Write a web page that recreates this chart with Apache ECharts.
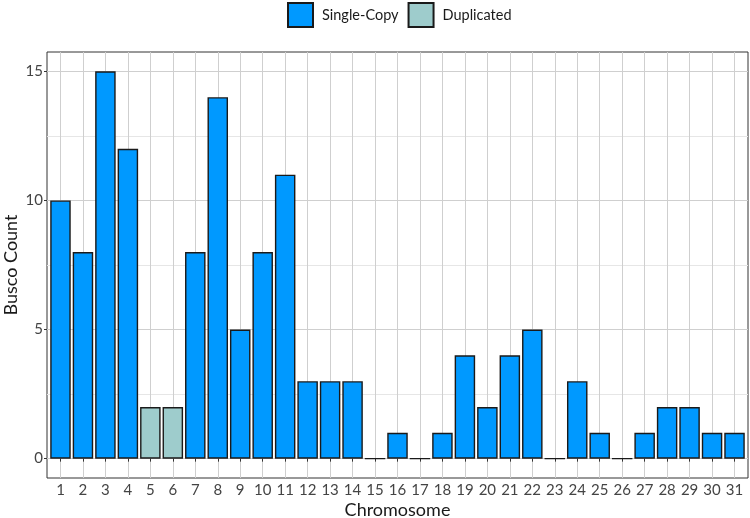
<!DOCTYPE html>
<html><head><meta charset="utf-8">
<script src="https://cdn.jsdelivr.net/npm/echarts@6/dist/echarts.min.js"></script>
<style>html,body{margin:0;padding:0;background:#fff}#c{width:750px;height:518px}</style>
</head><body><div id="c"></div>
<script>
const chromosomes = [1,2,3,4,5,6,7,8,9,10,11,12,13,14,15,16,17,18,19,20,21,22,23,24,25,26,27,28,29,30,31];
const singleCopy = [10,8,15,12,null,null,8,14,5,8,11,3,3,3,0,1,0,1,4,2,4,5,0,3,1,0,1,2,2,1,1];
const duplicated = [null,null,null,null,2,2,null,null,null,null,null,null,null,null,null,null,null,null,null,null,null,null,null,null,null,null,null,null,null,null,null];
const yTicks = [0,5,10,15];
const yMinor = [2.5,7.5,12.5];

const FONT = 'Lato';
const chart = echarts.init(document.getElementById('c'), null, {renderer:'canvas'});
const pair = arr => chromosomes.map((c,i)=> arr[i]==null ? null : [c, arr[i]]).filter(d=>d);
chart.setOption({
  animation:false,
  textStyle:{fontFamily:FONT},
  legend:{
    top:2, left:287, padding:0, itemWidth:25, itemHeight:24, itemGap:9,
    textStyle:{fontFamily:FONT, fontSize:14.5, color:'#1a1a1a', padding:[0,0,0,4]},
    data:[{name:'Single-Copy', icon:'rect'},{name:'Duplicated', icon:'rect'}]
  },
  grid:{left:47, right:2, top:52, bottom:40, show:true, borderColor:'#333', borderWidth:1,
        containLabel:false, outerBoundsMode:'none'},
  xAxis:{
    type:'value', min:0.4, max:31.6,
    name:'Chromosome', nameLocation:'middle', nameGap:23, nameMoveOverlap:false,
    nameTextStyle:{fontFamily:FONT, fontSize:18, color:'#1a1a1a'},
    axisLine:{show:false},
    axisTick:{show:true, length:3, lineStyle:{color:'#333'}, customValues:chromosomes},
    axisLabel:{fontFamily:FONT, fontSize:15, color:'#444', margin:5, customValues:chromosomes},
    splitLine:{show:true, lineStyle:{color:'#cfcfcf', width:1}}
  },
  yAxis:[{
    type:'value', min:-0.75, max:15.75,
    name:'Busco Count', nameLocation:'middle', nameGap:27, nameMoveOverlap:false,
    nameTextStyle:{fontFamily:FONT, fontSize:18, color:'#1a1a1a'},
    axisLine:{show:false},
    axisTick:{show:true, length:3, lineStyle:{color:'#333'}, customValues:yTicks},
    axisLabel:{fontFamily:FONT, fontSize:15, color:'#444', margin:4, customValues:yTicks},
    splitLine:{show:true, lineStyle:{color:'#cfcfcf', width:1}}
  },{
    type:'value', min:-0.75, max:15.75, position:'right',
    axisLine:{show:false}, axisLabel:{show:false},
    axisTick:{show:false, customValues:yMinor},
    splitLine:{show:true, lineStyle:{color:'#e6e6e6', width:1}}
  }],
  series:[
    {name:'Single-Copy', type:'bar', data:pair(singleCopy), barWidth:20.5, barGap:'-100%',
     itemStyle:{color:'#0099FF', borderColor:'#1a1a1a', borderWidth:1.4}},
    {name:'Duplicated', type:'bar', data:pair(duplicated), barWidth:20.5, barGap:'-100%',
     itemStyle:{color:'#9ECCCC', borderColor:'#1a1a1a', borderWidth:1.4}}
  ]
});
</script></body></html>
